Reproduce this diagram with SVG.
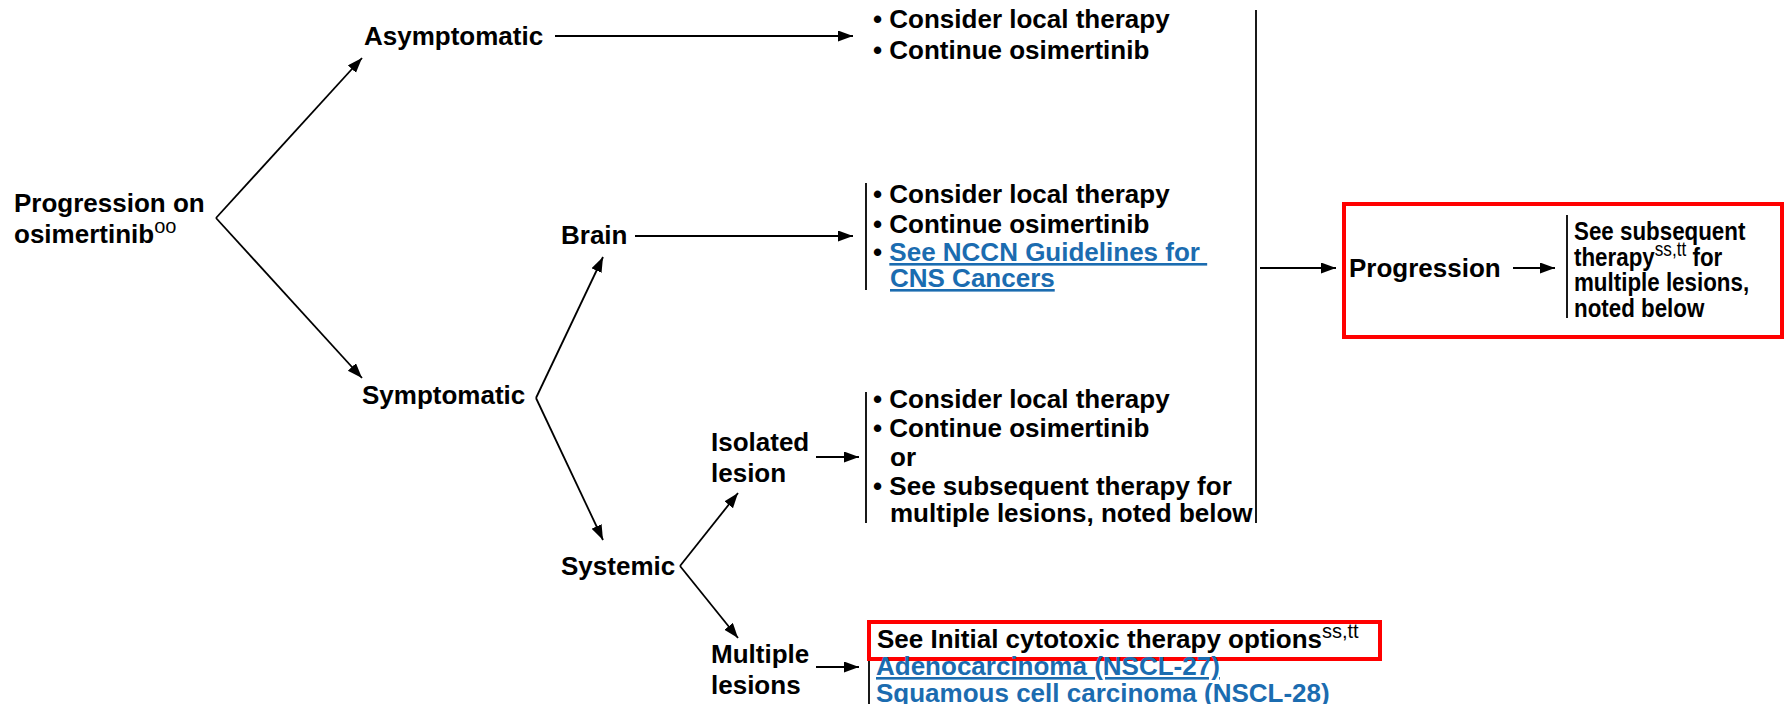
<svg xmlns="http://www.w3.org/2000/svg" width="1785" height="704" viewBox="0 0 1785 704">
<style>
  text { font-family: "Liberation Sans", Arial, sans-serif; font-weight: bold; font-size: 26px; fill: #000; white-space: pre; }
  .sup { font-size: 20px; font-weight: normal; }
  .link { fill: #1b6cb0; text-decoration: underline; }
  .ln { stroke: #000; stroke-width: 1.8; fill: none; }
  .arr { stroke: #000; stroke-width: 1.8; fill: none; marker-end: url(#ah); }
  .red { fill: none; stroke: #ff0000; stroke-width: 4; }
</style>
<defs>
  <marker id="ah" markerUnits="userSpaceOnUse" markerWidth="16" markerHeight="12" refX="15" refY="5.5" orient="auto">
    <path d="M0,0 L15,5.5 L0,11 z" fill="#000"/>
  </marker>
</defs>
<rect width="1785" height="704" fill="#fff"/>

<g id="connectors">
  <line class="arr" x1="216" y1="218" x2="362" y2="58"/>
  <line class="arr" x1="216" y1="218" x2="362" y2="378"/>
  <line class="arr" x1="555" y1="36" x2="853" y2="36"/>
  <line class="arr" x1="536" y1="398" x2="603" y2="257"/>
  <line class="arr" x1="536" y1="398" x2="603" y2="540"/>
  <line class="arr" x1="635" y1="236" x2="853" y2="236"/>
  <line class="arr" x1="680" y1="566" x2="738" y2="493"/>
  <line class="arr" x1="680" y1="566" x2="738" y2="638"/>
  <line class="arr" x1="816" y1="457" x2="859" y2="457"/>
  <line class="arr" x1="816" y1="667" x2="859" y2="667"/>
  <line class="ln" x1="1256" y1="10" x2="1256" y2="523"/>
  <line class="arr" x1="1260" y1="268" x2="1336" y2="268"/>
  <line class="arr" x1="1513" y1="268" x2="1555" y2="268"/>
  <line class="ln" x1="866" y1="183" x2="866" y2="290"/>
  <line class="ln" x1="866" y1="392" x2="866" y2="523"/>
  <line class="ln" x1="869" y1="629" x2="869" y2="704"/>
  <line class="ln" x1="1567" y1="215" x2="1567" y2="318"/>
</g>

<g id="progression-on-osimertinib">
  <text x="14" y="212">Progression on</text>
  <text x="14" y="243">osimertinib<tspan class="sup" dy="-10">oo</tspan></text>
</g>

<g id="asymptomatic">
  <text x="364" y="45">Asymptomatic</text>
</g>

<g id="asymptomatic-options">
  <text x="873" y="28">• Consider local therapy</text>
  <text x="873" y="59">• Continue osimertinib</text>
</g>

<g id="symptomatic">
  <text x="362" y="404">Symptomatic</text>
</g>

<g id="brain">
  <text x="561" y="244">Brain</text>
</g>

<g id="brain-options">
  <text x="873" y="203">• Consider local therapy</text>
  <text x="873" y="233">• Continue osimertinib</text>
  <text x="873" y="261">• <tspan class="link">See NCCN Guidelines for </tspan></text>
  <text x="890" y="287" class="link">CNS Cancers</text>
</g>

<g id="systemic">
  <text x="561" y="575">Systemic</text>
</g>

<g id="isolated-lesion">
  <text x="711" y="451">Isolated</text>
  <text x="711" y="482">lesion</text>
</g>

<g id="isolated-options">
  <text x="873" y="408">• Consider local therapy</text>
  <text x="873" y="437">• Continue osimertinib</text>
  <text x="890" y="466">or</text>
  <text x="873" y="495">• See subsequent therapy for</text>
  <text x="890" y="522">multiple lesions, noted below</text>
</g>

<g id="multiple-lesions">
  <text x="711" y="663">Multiple</text>
  <text x="711" y="694">lesions</text>
</g>

<g id="multiple-options">
  <rect class="red" x="869" y="622" width="511" height="37"/>
  <text x="877" y="648">See Initial cytotoxic therapy options<tspan class="sup" dy="-10">ss,tt</tspan></text>
  <text x="876" y="675" class="link">Adenocarcinoma (NSCL-27)</text>
  <text x="876" y="702" class="link">Squamous cell carcinoma (NSCL-28)</text>
</g>

<g id="progression">
  <rect class="red" x="1344" y="204" width="438" height="133"/>
  <text x="1349" y="277">Progression</text>
</g>

<g id="subsequent-therapy" transform="translate(1574 0) scale(0.86 1)">
  <text x="0" y="240">See subsequent</text>
  <text x="0" y="266">therapy<tspan class="sup" dy="-10">ss,tt</tspan><tspan dy="10"> for</tspan></text>
  <text x="0" y="291">multiple lesions,</text>
  <text x="0" y="317">noted below</text>
</g>
</svg>
